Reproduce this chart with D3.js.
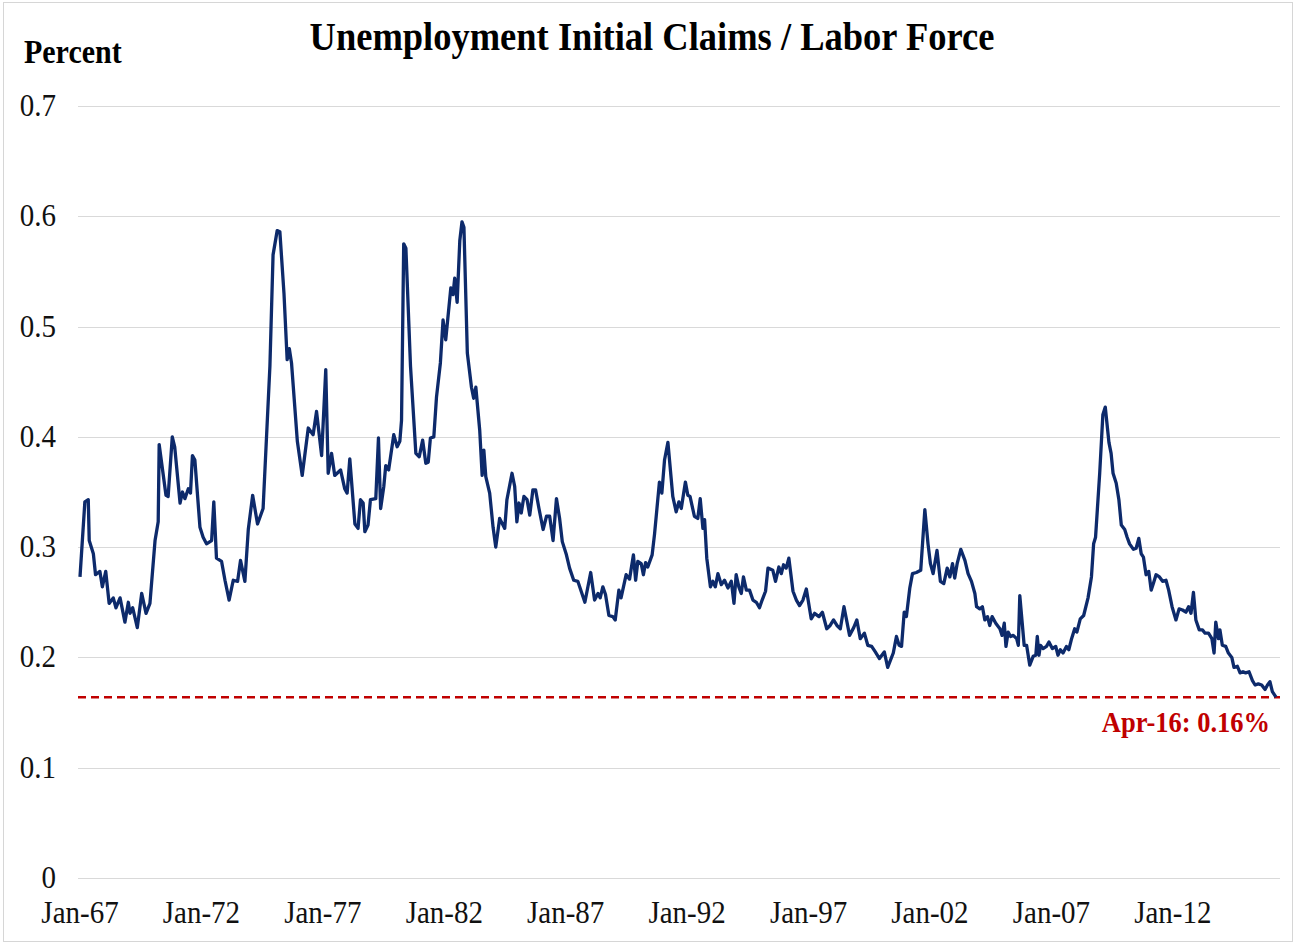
<!DOCTYPE html>
<html>
<meta charset="utf-8">
<title>Unemployment Initial Claims / Labor Force</title>
<style>
  body { margin: 0; background: #fff; }
  svg { display: block; }
  .title { font-family: "Liberation Serif", "Times New Roman", serif; font-weight: bold; }
  .tick-label { font-family: "Liberation Serif", "Times New Roman", serif; fill: #111; }
  .grid line { stroke: #d9d9d9; stroke-width: 1; }
</style>
<body>
<script src="https://d3js.org/d3.v7.min.js"></script>
<script>
// values (decimal year, percent)
var years = [
  1967.00, 1967.20, 1967.34, 1967.38, 1967.55, 1967.64, 1967.82, 1967.92, 1968.06, 1968.20,
  1968.37, 1968.48, 1968.65, 1968.85, 1968.99, 1969.06, 1969.17, 1969.36, 1969.54, 1969.72,
  1969.88, 1970.09, 1970.22, 1970.26, 1970.54, 1970.63, 1970.80, 1970.90, 1971.12, 1971.22,
  1971.32, 1971.46, 1971.55, 1971.63, 1971.73, 1971.94, 1972.07, 1972.21, 1972.42, 1972.51,
  1972.62, 1972.83, 1972.97, 1973.14, 1973.31, 1973.49, 1973.61, 1973.79, 1973.93, 1974.11,
  1974.31, 1974.54, 1974.82, 1974.95, 1975.12, 1975.23, 1975.40, 1975.53, 1975.62, 1975.71,
  1975.95, 1976.15, 1976.40, 1976.60, 1976.74, 1976.95, 1977.12, 1977.22, 1977.36, 1977.49,
  1977.73, 1977.90, 1978.00, 1978.11, 1978.32, 1978.45, 1978.55, 1978.66, 1978.73, 1978.86,
  1978.96, 1979.18, 1979.29, 1979.38, 1979.51, 1979.59, 1979.71, 1979.92, 1980.06, 1980.17,
  1980.24, 1980.33, 1980.42, 1980.61, 1980.83, 1980.97, 1981.11, 1981.24, 1981.34, 1981.43,
  1981.57, 1981.68, 1981.84, 1981.95, 1982.06, 1982.27, 1982.36, 1982.43, 1982.53, 1982.64,
  1982.73, 1982.81, 1982.95, 1983.12, 1983.21, 1983.30, 1983.46, 1983.56, 1983.63, 1983.71,
  1983.87, 1984.01, 1984.12, 1984.28, 1984.49, 1984.58, 1984.79, 1984.90, 1984.99, 1985.08,
  1985.17, 1985.28, 1985.41, 1985.52, 1985.65, 1985.76, 1985.90, 1986.07, 1986.21, 1986.34,
  1986.48, 1986.62, 1986.75, 1986.86, 1987.03, 1987.16, 1987.33, 1987.50, 1987.79, 1988.03,
  1988.19, 1988.33, 1988.42, 1988.53, 1988.64, 1988.78, 1988.94, 1989.04, 1989.19, 1989.28,
  1989.49, 1989.63, 1989.79, 1989.88, 1989.97, 1990.11, 1990.20, 1990.29, 1990.38, 1990.56,
  1990.66, 1990.86, 1990.96, 1991.07, 1991.21, 1991.41, 1991.55, 1991.66, 1991.76, 1991.93,
  1992.03, 1992.12, 1992.30, 1992.44, 1992.54, 1992.65, 1992.72, 1992.81, 1992.96, 1993.06,
  1993.16, 1993.27, 1993.41, 1993.54, 1993.68, 1993.82, 1993.93, 1994.02, 1994.13, 1994.23,
  1994.32, 1994.44, 1994.57, 1994.71, 1994.85, 1994.98, 1995.09, 1995.23, 1995.33, 1995.53,
  1995.64, 1995.78, 1995.88, 1995.97, 1996.08, 1996.19, 1996.36, 1996.50, 1996.63, 1996.77,
  1996.91, 1997.11, 1997.25, 1997.43, 1997.57, 1997.75, 1997.89, 1998.03, 1998.17, 1998.31,
  1998.46, 1998.69, 1998.86, 1998.99, 1999.13, 1999.30, 1999.44, 1999.60, 1999.75, 1999.92,
  2000.12, 2000.26, 2000.49, 2000.62, 2000.73, 2000.83, 2000.94, 2001.03, 2001.17, 2001.28,
  2001.44, 2001.62, 2001.79, 2001.92, 2002.02, 2002.13, 2002.29, 2002.43, 2002.57, 2002.71,
  2002.82, 2002.93, 2003.02, 2003.12, 2003.27, 2003.44, 2003.57, 2003.71, 2003.85, 2003.92,
  2004.05, 2004.16, 2004.26, 2004.37, 2004.46, 2004.56, 2004.71, 2004.88, 2004.97, 2005.06,
  2005.13, 2005.22, 2005.32, 2005.43, 2005.57, 2005.64, 2005.70, 2005.80, 2005.88, 2005.98,
  2006.11, 2006.25, 2006.36, 2006.42, 2006.49, 2006.55, 2006.66, 2006.80, 2006.90, 2007.04,
  2007.18, 2007.27, 2007.37, 2007.48, 2007.62, 2007.72, 2007.82, 2007.96, 2008.05, 2008.19,
  2008.33, 2008.51, 2008.65, 2008.74, 2008.82, 2008.99, 2009.12, 2009.22, 2009.37, 2009.46,
  2009.54, 2009.67, 2009.78, 2009.88, 2010.02, 2010.12, 2010.22, 2010.38, 2010.49, 2010.60,
  2010.70, 2010.79, 2010.90, 2011.01, 2011.11, 2011.20, 2011.31, 2011.45, 2011.58, 2011.72,
  2011.83, 2011.97, 2012.13, 2012.26, 2012.40, 2012.54, 2012.65, 2012.75, 2012.85, 2012.95,
  2013.09, 2013.22, 2013.33, 2013.47, 2013.61, 2013.70, 2013.77, 2013.88, 2013.94, 2014.04,
  2014.18, 2014.29, 2014.43, 2014.52, 2014.66, 2014.77, 2014.89, 2015.00, 2015.14, 2015.28,
  2015.39, 2015.52, 2015.66, 2015.80, 2015.90, 2016.00, 2016.10, 2016.25
];

var claims = [
  0.273, 0.341, 0.343, 0.306, 0.294, 0.275, 0.278, 0.264, 0.278, 0.249,
  0.254, 0.245, 0.254, 0.232, 0.250, 0.240, 0.245, 0.227, 0.258, 0.240,
  0.249, 0.306, 0.323, 0.393, 0.347, 0.346, 0.400, 0.391, 0.340, 0.350,
  0.344, 0.353, 0.349, 0.383, 0.379, 0.318, 0.309, 0.303, 0.306, 0.341,
  0.290, 0.287, 0.270, 0.252, 0.270, 0.269, 0.288, 0.269, 0.316, 0.347,
  0.321, 0.335, 0.464, 0.565, 0.587, 0.586, 0.530, 0.470, 0.480, 0.467,
  0.396, 0.365, 0.408, 0.402, 0.423, 0.383, 0.461, 0.367, 0.385, 0.365,
  0.370, 0.353, 0.349, 0.380, 0.321, 0.317, 0.343, 0.340, 0.314, 0.320,
  0.343, 0.344, 0.399, 0.335, 0.355, 0.374, 0.370, 0.402, 0.391, 0.396,
  0.415, 0.575, 0.571, 0.464, 0.385, 0.382, 0.397, 0.376, 0.377, 0.399,
  0.400, 0.436, 0.467, 0.506, 0.488, 0.535, 0.529, 0.544, 0.522, 0.578,
  0.595, 0.590, 0.476, 0.445, 0.435, 0.445, 0.406, 0.365, 0.388, 0.364,
  0.349, 0.318, 0.300, 0.326, 0.317, 0.343, 0.367, 0.355, 0.323, 0.340,
  0.331, 0.346, 0.343, 0.329, 0.352, 0.352, 0.335, 0.316, 0.328, 0.328,
  0.306, 0.344, 0.326, 0.305, 0.293, 0.281, 0.270, 0.269, 0.250, 0.277,
  0.252, 0.258, 0.254, 0.264, 0.257, 0.238, 0.237, 0.234, 0.261, 0.254,
  0.275, 0.271, 0.293, 0.270, 0.287, 0.285, 0.275, 0.286, 0.282, 0.293,
  0.312, 0.359, 0.349, 0.379, 0.395, 0.346, 0.332, 0.341, 0.335, 0.359,
  0.347, 0.346, 0.328, 0.326, 0.344, 0.317, 0.325, 0.290, 0.264, 0.269,
  0.264, 0.276, 0.266, 0.270, 0.263, 0.269, 0.249, 0.275, 0.264, 0.258,
  0.273, 0.261, 0.261, 0.252, 0.250, 0.245, 0.252, 0.260, 0.281, 0.279,
  0.269, 0.282, 0.276, 0.284, 0.281, 0.290, 0.260, 0.252, 0.247, 0.252,
  0.262, 0.235, 0.240, 0.237, 0.241, 0.226, 0.229, 0.234, 0.229, 0.226,
  0.246, 0.220, 0.227, 0.234, 0.217, 0.222, 0.211, 0.210, 0.205, 0.199,
  0.205, 0.191, 0.204, 0.219, 0.211, 0.210, 0.241, 0.237, 0.263, 0.276,
  0.277, 0.279, 0.334, 0.303, 0.285, 0.276, 0.297, 0.269, 0.267, 0.281,
  0.273, 0.285, 0.272, 0.285, 0.298, 0.288, 0.276, 0.269, 0.258, 0.246,
  0.244, 0.246, 0.234, 0.237, 0.229, 0.237, 0.231, 0.226, 0.220, 0.231,
  0.210, 0.223, 0.219, 0.220, 0.217, 0.211, 0.256, 0.231, 0.211, 0.211,
  0.193, 0.201, 0.202, 0.219, 0.202, 0.211, 0.208, 0.210, 0.214, 0.208,
  0.210, 0.202, 0.207, 0.204, 0.210, 0.207, 0.216, 0.226, 0.223, 0.235,
  0.238, 0.254, 0.273, 0.303, 0.309, 0.367, 0.420, 0.427, 0.395, 0.385,
  0.367, 0.358, 0.343, 0.320, 0.316, 0.309, 0.303, 0.298, 0.299, 0.308,
  0.294, 0.291, 0.275, 0.278, 0.261, 0.267, 0.275, 0.273, 0.269, 0.270,
  0.261, 0.246, 0.234, 0.244, 0.243, 0.241, 0.246, 0.240, 0.259, 0.234,
  0.225, 0.225, 0.222, 0.222, 0.217, 0.204, 0.232, 0.217, 0.225, 0.211,
  0.210, 0.204, 0.200, 0.191, 0.192, 0.186, 0.187, 0.186, 0.187, 0.179,
  0.175, 0.176, 0.175, 0.171, 0.175, 0.178, 0.169, 0.164
];

var tickYears = [1967, 1972, 1977, 1982, 1987, 1992, 1997, 2002, 2007, 2012];
var tickLabels = ["Jan-67", "Jan-72", "Jan-77", "Jan-82", "Jan-87", "Jan-92", "Jan-97", "Jan-02", "Jan-07", "Jan-12"];
var yTicks = [0, 0.1, 0.2, 0.3, 0.4, 0.5, 0.6, 0.7];

var latestValue = 0.164;
var latestLabel = "Apr-16: 0.16%";

var width = 1297, height = 945;
var stretch = 1.1; // the source screenshot text is a bit taller than wide

var svg = d3.select("body").append("svg")
    .attr("width", width)
    .attr("height", height);

// thin frame like the screenshot
svg.append("rect")
    .attr("x", 3.5).attr("y", 2.5)
    .attr("width", width - 8).attr("height", height - 6)
    .attr("fill", "#fff")
    .attr("stroke", "#d6d6d6");

var x = d3.scaleLinear()
    .domain([1967, 2016.25])
    .range([80, 1276]);

var y = d3.scaleLinear()
    .domain([0, 0.7])
    .range([878, 106]);

function place(px, py) {
  return "translate(" + px + "," + py + ") scale(1," + stretch + ")";
}

// gridlines
svg.append("g")
    .attr("class", "grid")
  .selectAll("line")
    .data(yTicks)
  .enter().append("line")
    .attr("x1", 78)
    .attr("x2", 1280)
    .attr("y1", function(d) { return Math.round(y(d)) + 0.5; })
    .attr("y2", function(d) { return Math.round(y(d)) + 0.5; });

// y tick labels
svg.append("g")
  .selectAll("text")
    .data(yTicks)
  .enter().append("text")
    .attr("class", "tick-label")
    .attr("transform", function(d) { return place(56, y(d) + 10); })
    .attr("text-anchor", "end")
    .style("font-size", "29px")
    .text(function(d) { return d === 0 ? "0" : d3.format(".1f")(d); });

// x tick labels
svg.append("g")
  .selectAll("text")
    .data(tickYears)
  .enter().append("text")
    .attr("class", "tick-label")
    .attr("transform", function(d) { return place(x(d), 923); })
    .attr("text-anchor", "middle")
    .style("font-size", "29px")
    .text(function(d, i) { return tickLabels[i]; });

// title + unit
svg.append("text")
    .attr("class", "title")
    .attr("transform", place(652, 50))
    .attr("text-anchor", "middle")
    .style("font-size", "36.5px")
    .text("Unemployment Initial Claims / Labor Force");

svg.append("text")
    .attr("class", "title")
    .attr("transform", place(24, 63))
    .style("font-size", "30px")
    .text("Percent");

// latest value reference line
svg.append("line")
    .attr("x1", 78)
    .attr("x2", 1280)
    .attr("y1", y(latestValue))
    .attr("y2", y(latestValue))
    .attr("stroke", "#c00000")
    .attr("stroke-width", 2.5)
    .attr("stroke-dasharray", "8,5");

svg.append("text")
    .attr("class", "title")
    .attr("transform", place(1270, 732))
    .attr("text-anchor", "end")
    .style("font-size", "26.5px")
    .style("fill", "#c00000")
    .text(latestLabel);

// series
var line = d3.line()
    .x(function(d) { return x(d[0]); })
    .y(function(d) { return y(d[1]); });

svg.append("path")
    .datum(d3.zip(years, claims))
    .attr("d", line)
    .attr("fill", "none")
    .attr("stroke", "#0d2a6b")
    .attr("stroke-width", 3.3)
    .attr("stroke-linejoin", "round");
</script>
</body>
</html>
